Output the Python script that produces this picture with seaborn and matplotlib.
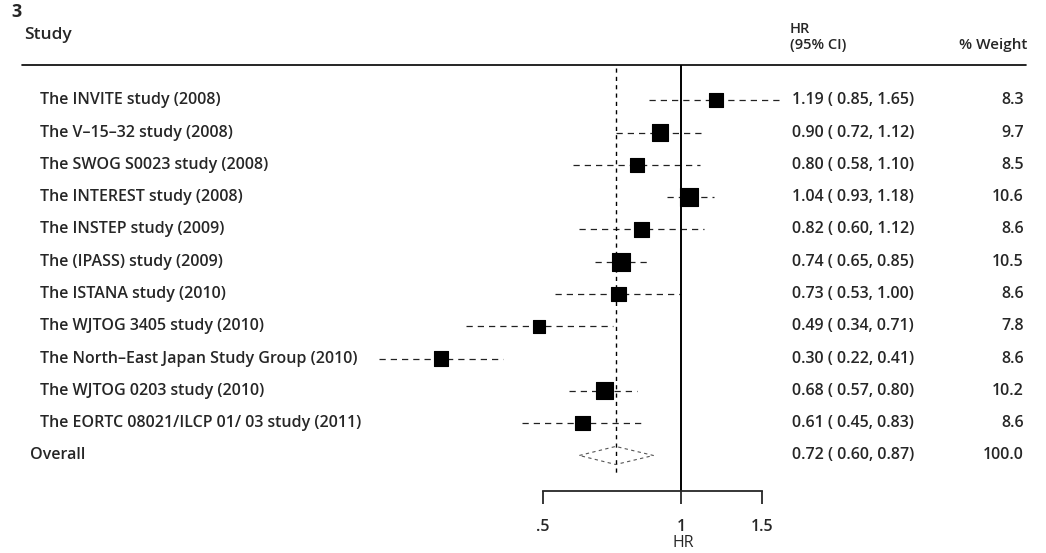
import numpy as np
import pandas as pd
import seaborn as sns
import matplotlib.pyplot as plt
from matplotlib.lines import Line2D
from matplotlib.patches import Polygon
from matplotlib.ticker import FixedLocator, FixedFormatter, NullLocator
import matplotlib.transforms as mtransforms

# data
studies = ["The INVITE study (2008)", "The V\u201315\u201332 study (2008)",
           "The SWOG S0023 study (2008)", "The INTEREST study (2008)",
           "The INSTEP study (2009)", "The (IPASS) study (2009)",
           "The ISTANA study (2010)", "The WJTOG 3405 study (2010)",
           "The North\u2013East Japan Study Group (2010)", "The WJTOG 0203 study (2010)",
           "The EORTC 08021/ILCP 01/ 03 study (2011)"]
hr = [1.19, 0.90, 0.80, 1.04, 0.82, 0.74, 0.73, 0.49, 0.30, 0.68, 0.61]
lo = [0.85, 0.72, 0.58, 0.93, 0.60, 0.65, 0.53, 0.34, 0.22, 0.57, 0.45]
hi = [1.65, 1.12, 1.10, 1.18, 1.12, 0.85, 1.00, 0.71, 0.41, 0.80, 0.83]
weight = [8.3, 9.7, 8.5, 10.6, 8.6, 10.5, 8.6, 7.8, 8.6, 10.2, 8.6]
overall_hr, overall_lo, overall_hi, overall_w = 0.72, 0.60, 0.87, 100.0
xticks = [0.5, 1, 1.5]
xticklabels = [".5", "1", "1.5"]

sns.set_style("white")
plt.rcParams['font.family'] = ['Open Sans', 'DejaVu Sans']
plt.rcParams['font.weight'] = 'semibold'

df = pd.DataFrame({"study": studies, "hr": hr, "lo": lo, "hi": hi, "weight": weight})
df["row"] = np.arange(len(df))
overall_row = len(df)

W, H = 1046, 553
fig = plt.figure(figsize=(W / 100, H / 100), dpi=100)
# axes spans the .5 .. 1.5 axis
ax = fig.add_axes([543 / W, 1 - 491 / H, (762 - 543) / W, (491 - 65) / H])
ax.set_xscale("log")
ax.set_xlim(0.5, 1.5)
ax.set_ylim(12.1, -1.09)

# confidence intervals
ax.hlines(df["row"], df["lo"], df["hi"], color="#222222", lw=0.9,
          linestyles=(0, (5, 4)), clip_on=False)
sns.scatterplot(data=df, x="hr", y="row", size="weight", sizes=(85, 165),
                marker="s", color="black", edgecolor="black", legend=False,
                ax=ax, clip_on=False, zorder=3)

# overall diamond
dia = Polygon([(overall_lo, overall_row), (overall_hr, overall_row - 0.28),
               (overall_hi, overall_row), (overall_hr, overall_row + 0.28)],
              closed=True, fill=False, edgecolor="#555555", lw=0.8,
              linestyle=(0, (3, 3)), clip_on=False)
ax.add_patch(dia)

ax.axvline(1, color="black", lw=1.4)
ax.vlines(overall_hr, -1.0, overall_row + 0.6, color="black", lw=1.0,
          linestyles=(0, (3, 3)))

for s in ["top", "right", "left"]:
    ax.spines[s].set_visible(False)
ax.spines["bottom"].set_linewidth(1.3)
ax.xaxis.set_major_locator(FixedLocator(xticks))
ax.xaxis.set_major_formatter(FixedFormatter(xticklabels))
ax.xaxis.set_minor_locator(NullLocator())
ax.tick_params(axis="x", direction="out", length=9, width=1.3, labelsize=11.5, pad=11,
               bottom=True)
ax.set_yticks([])
ax.set_xlabel("HR", fontsize=11.5)
ax.xaxis.set_label_coords((683 - 543) / (762 - 543), -44 / 426)
ax.set_ylabel("")

trans = mtransforms.blended_transform_factory(fig.transFigure, ax.transData)
fs = 11.5
nfs = 11.5
for i, r in df.iterrows():
    fig.text(40 / W, r["row"], r["study"], transform=trans, fontsize=fs, va="center", ha="left")
    fig.text(792 / W, r["row"], f"{r['hr']:.2f} ( {r['lo']:.2f}, {r['hi']:.2f})",
             transform=trans, fontsize=nfs, va="center", ha="left")
    fig.text(1024 / W, r["row"], f"{r['weight']:.1f}", transform=trans,
             fontsize=nfs, va="center", ha="right")
fig.text(30 / W, overall_row, "Overall", transform=trans, fontsize=fs, va="center")
fig.text(792 / W, overall_row, f"{overall_hr:.2f} ( {overall_lo:.2f}, {overall_hi:.2f})",
         transform=trans, fontsize=nfs, va="center")
fig.text(1024 / W, overall_row, f"{overall_w:.1f}", transform=trans,
         fontsize=nfs, va="center", ha="right")

# header
fig.text(11 / W, 1 - 12 / H, "3", fontsize=13, fontweight="bold", va="center")
fig.text(24 / W, 1 - 35 / H, "Study", fontsize=12.5, va="center")
fig.text(790 / W, 1 - 29 / H, "HR", fontsize=10.5, va="center")
fig.text(790 / W, 1 - 45 / H, "(95% CI)", fontsize=10.5, va="center")
fig.text(1027 / W, 1 - 45 / H, "% Weight", fontsize=11, va="center", ha="right")
fig.add_artist(Line2D([22 / W, 1026 / W], [1 - 65 / H, 1 - 65 / H], color="black", lw=1.2))

fig.savefig("out.png", dpi=100)
